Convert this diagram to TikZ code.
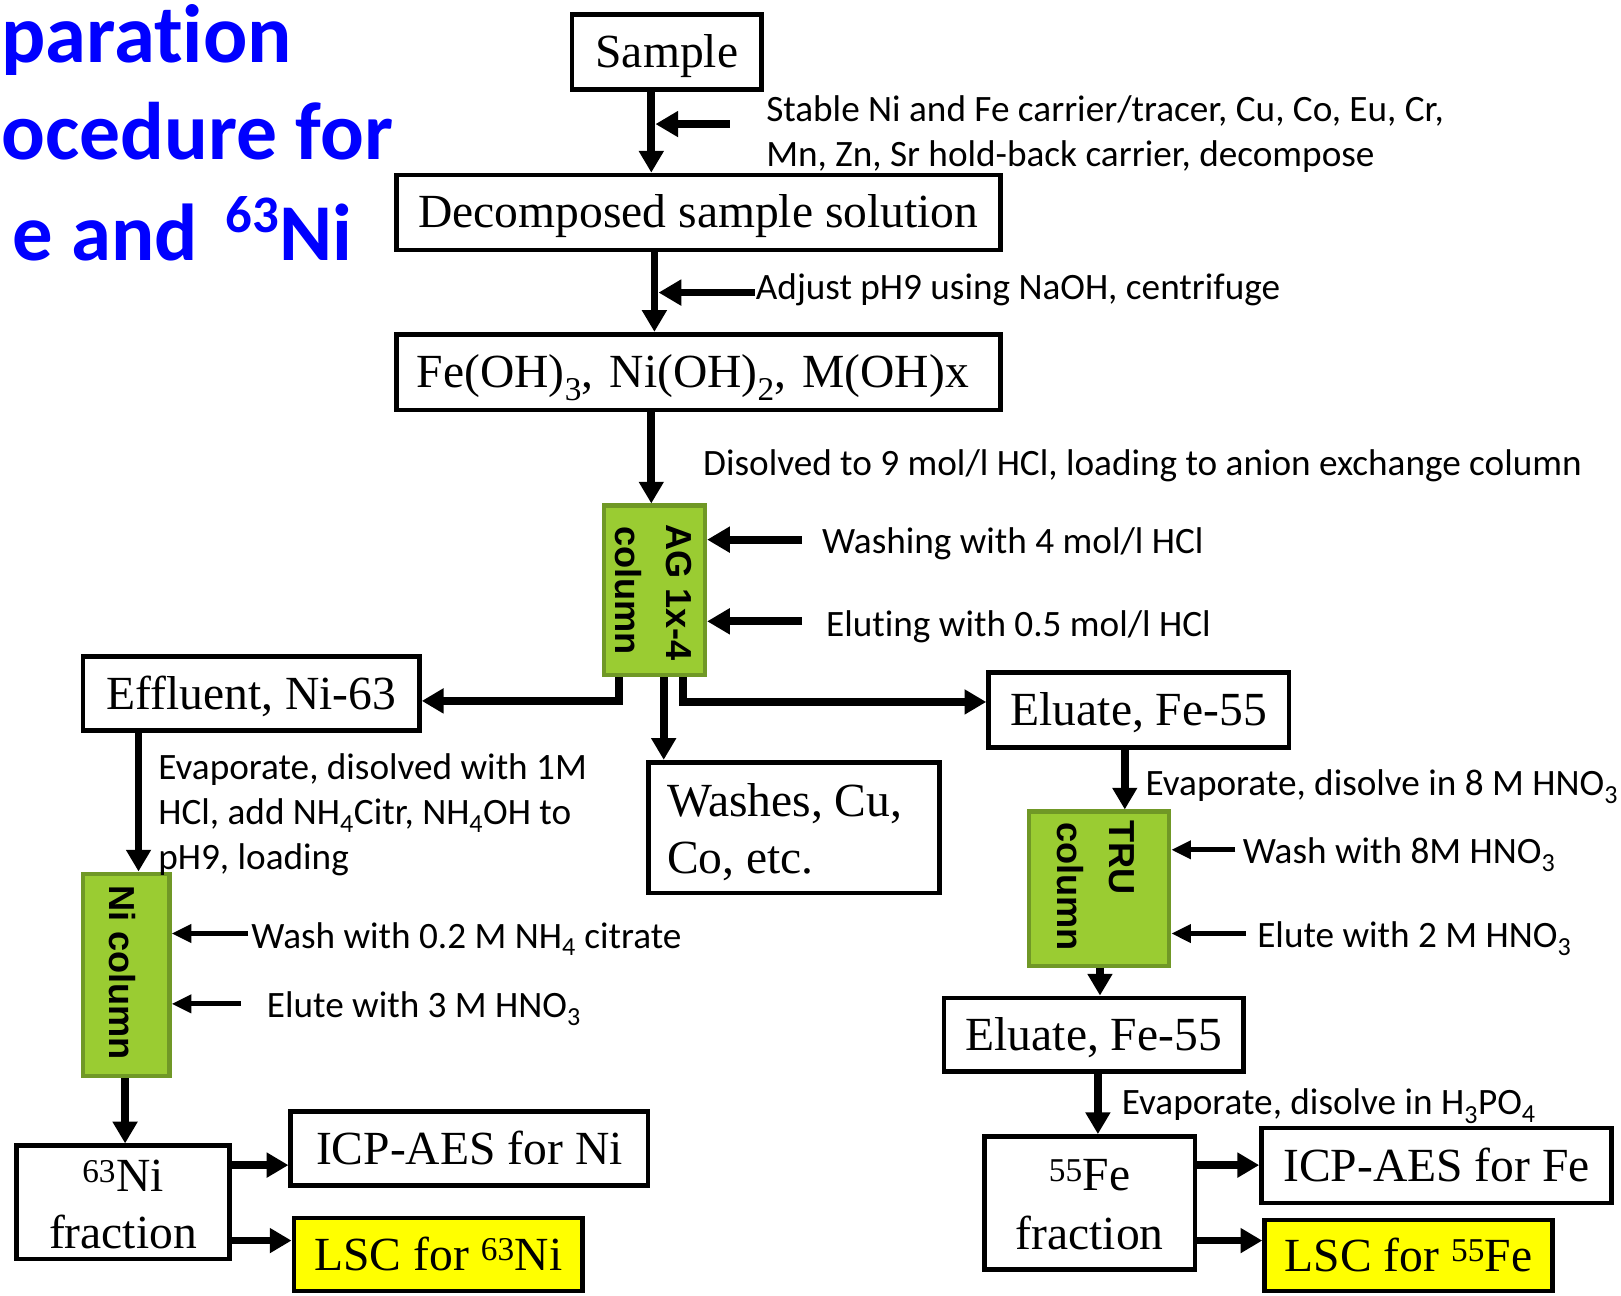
\documentclass[tikz,border=0pt]{standalone}
\usepackage{fontspec}
\setmainfont{Liberation Serif}
\newfontfamily\calfont{Carlito}[Ligatures=NoCommon]
\newfontfamily\colfont{Liberation Sans}
\usetikzlibrary{arrows.meta}
\definecolor{colgreen}{RGB}{154,204,50}
\definecolor{colborder}{RGB}{112,152,38}
\definecolor{titleblue}{RGB}{0,0,255}
\definecolor{lscyellow}{RGB}{255,255,0}
\begin{document}
\begin{tikzpicture}[x=1pt,y=-1pt,
  box/.style={draw=black, line width=4.5pt, fill=white, inner sep=0pt,
    text height=30pt, text depth=0pt, font=\fontsize{46}{52}\selectfont},
  boxtxt/.style={font=\fontsize{46}{52}\selectfont, inner sep=0pt},
  colbox/.style={draw=colborder, line width=4pt, fill=colgreen, inner sep=0pt},
  coltext/.style={font=\colfont\bfseries\fontsize{35}{50}\selectfont, rotate=-90,
    anchor=base west, inner sep=0pt},
  lbl/.style={font=\calfont\fontsize{36}{44}\selectfont, inner sep=0pt, anchor=base west},
  titletxt/.style={font=\calfont\bfseries\fontsize{80}{98}\selectfont, text=titleblue,
    inner sep=0pt},
  flow/.style={line width=7.5pt, -{Triangle[length=21pt,width=23pt]}},
  side/.style={line width=7.5pt, -{Triangle[length=22pt,width=24pt]}},
  thinarrow/.style={line width=5pt, -{Triangle[length=19pt,width=17pt]}}
]
\useasboundingbox (0,0) rectangle (1568,1253);

% title (as far as it is visible)
\node[titletxt, anchor=base west, text height=52pt] (title1) at (1,60) {paration};
\node[titletxt, anchor=base west, font=\calfont\bfseries\fontsize{79}{98}\selectfont] (title2) at (1,154) {ocedure for};
\node[titletxt, anchor=base east, font=\calfont\bfseries\fontsize{78}{98}\selectfont] (title3) at (341,252)
  {e and\hspace{27pt}\raisebox{27pt}{\fontsize{51}{51}\selectfont 63}Ni};

% boxes
\node[box, minimum width=183.5pt, minimum height=72.5pt] (sample) at (645,50.5) {Sample};
\node[box, minimum width=584.5pt, minimum height=72.5pt] (decomp) at (675.5,205.5) {Decomposed sample solution};
\node[box, minimum width=584.5pt, minimum height=73.5pt, text width=544.5pt, align=left, inner xsep=20pt] (feoh) at (675.5,360)
  {Fe(OH)\textsubscript{3}, Ni(OH)\textsubscript{2}, M(OH)x};
\node[colbox, minimum width=98pt, minimum height=164pt] (ag) at (633,571) {};
\node[box, minimum width=325.5pt, minimum height=71.5pt] (eff) at (243,671) {Effluent, Ni-63};
\node[box, minimum width=281.5pt, minimum height=126.5pt] (washes) at (768,800.5) {};
\node[box, minimum width=290.5pt, minimum height=72.5pt] (elu1) at (1101.5,686.5) {Eluate, Fe-55};
\node[colbox, minimum width=136pt, minimum height=149pt] (tru) at (1063,859.5) {};
\node[box, minimum width=289.5pt, minimum height=71.5pt] (elu2) at (1058,1001) {Eluate, Fe-55};
\node[colbox, minimum width=84pt, minimum height=196pt] (nicol) at (122,943) {};
\node[box, minimum width=205.5pt, minimum height=109.5pt] (nifrac) at (119,1163) {};
\node[box, minimum width=345.5pt, minimum height=71.5pt] (icpni) at (454,1111) {ICP-AES for Ni};
\node[box, fill=lscyellow, minimum width=279.5pt, minimum height=70.5pt] (lscni) at (424,1213.5) {LSC for \textsuperscript{63}Ni};
\node[box, minimum width=203.5pt, minimum height=128.5pt] (fefrac) at (1054,1163.5) {};
\node[box, minimum width=338.5pt, minimum height=72.5pt] (icpfe) at (1389.5,1127.5) {ICP-AES for Fe};
\node[box, fill=lscyellow, minimum width=278.5pt, minimum height=68.5pt] (lscfe) at (1362.5,1214.5) {LSC for \textsuperscript{55}Fe};

% texts of the multi-line boxes
\node[boxtxt, anchor=base west] (washes1) at (645,790) {Washes, Cu,};
\node[boxtxt, anchor=base west] (washes2) at (645,845) {Co, etc.};
\node[boxtxt, anchor=base] (nifrac1) at (119,1153) {\textsuperscript{63}Ni};
\node[boxtxt, anchor=base] (nifrac2) at (119,1208) {fraction};
\node[boxtxt, anchor=base] (fefrac1) at (1054,1152) {\textsuperscript{55}Fe};
\node[boxtxt, anchor=base] (fefrac2) at (1054,1209) {fraction};

% column texts
\node[coltext] (agt1) at (645,507) {AG 1x-4};
\node[coltext] (agt2) at (595,509) {column};
\node[coltext] (trut1) at (1073,793) {TRU};
\node[coltext] (trut2) at (1022.5,795) {column};
\node[coltext] (nit) at (105.6,856) {Ni column};

% labels
\node[lbl] (lstab1) at (741,117.5) {Stable Ni and Fe carrier/tracer, Cu, Co, Eu, Cr,};
\node[lbl] (lstab2) at (741,161.5) {Mn, Zn, Sr hold-back carrier, decompose};
\node[lbl] (ladj) at (731,289.5) {Adjust pH9 using NaOH, centrifuge};
\node[lbl] (ldis) at (680,459.5) {Disolved to 9 mol/l HCl, loading to anion exchange column};
\node[lbl] (lwash) at (795,535.5) {Washing with 4 mol/l HCl};
\node[lbl] (lelut) at (799,616) {Eluting with 0.5 mol/l HCl};
\node[lbl] (levap1) at (153,754) {Evaporate, disolved with 1M};
\node[lbl] (levap2) at (153,797.5) {HCl, add NH\textsubscript{4}Citr, NH\textsubscript{4}OH to};
\node[lbl] (levap3) at (153,841) {pH9, loading};
\node[lbl] (lniwash) at (243,917) {Wash with 0.2 M NH\textsubscript{4} citrate};
\node[lbl] (lnielute) at (258,984) {Elute with 3 M HNO\textsubscript{3}};
\node[lbl] (lfe8) at (1108,769) {Evaporate, disolve in 8 M HNO\textsubscript{3}};
\node[lbl] (ltruwash) at (1202,835) {Wash with 8M HNO\textsubscript{3}};
\node[lbl] (ltruelute) at (1216,916.5) {Elute with 2 M HNO\textsubscript{3}};
\node[lbl] (lh3po4) at (1085,1078.5) {Evaporate, disolve in H\textsubscript{3}PO\textsubscript{4}};

% helper coordinates
\coordinate (xA) at (630,0);
\coordinate (xB) at (633,0);
\coordinate (xC) at (630,0);
\coordinate (xE) at (599,0);
\coordinate (yE) at (0,678);
\coordinate (xW) at (642,0);
\coordinate (xF) at (661,0);
\coordinate (yF) at (0,679);
\coordinate (xN) at (134,0);
\coordinate (xN2) at (121,0);
\coordinate (xT) at (1088,0);
\coordinate (xT2) at (1064,0);
\coordinate (xT3) at (1062,0);
\coordinate (yU) at (0,1127);
\coordinate (yL) at (0,1200);
\coordinate (sAtail) at (706,120);
\coordinate (sAtip) at (634,120);
\coordinate (sBtail) at (730,283);
\coordinate (sBtip) at (637,283);
\coordinate (agw1) at (776,522);
\coordinate (agw2) at (776,601);
\coordinate (niw1) at (240,903);
\coordinate (niw2) at (233,971);
\coordinate (truw1) at (1195,822);
\coordinate (truw2) at (1205,903);

% main flow
\draw[flow] (sample.south -| xA) -- (decomp.north -| xA);
\draw[side] (sAtail) -- (sAtip);
\draw[flow] (decomp.south -| xB) -- (feoh.north -| xB);
\draw[side] (sBtail) -- (sBtip);
\draw[flow] (feoh.south -| xC) -- (ag.north -| xC);
\draw[side] (agw1) -- (agw1 -| ag.east);
\draw[side] (agw2) -- (agw2 -| ag.east);

% outputs of the AG column
\draw[flow] (ag.south -| xE) |- (eff.east |- yE);
\draw[flow] (ag.south -| xW) -- (washes.north -| xW);
\draw[flow] (ag.south -| xF) |- (elu1.west |- yF);

% Ni branch
\draw[flow] (eff.south -| xN) -- (nicol.north -| xN);
\draw[thinarrow] (niw1) -- (niw1 -| nicol.east);
\draw[thinarrow] (niw2) -- (niw2 -| nicol.east);
\draw[flow] (nicol.south -| xN2) -- (nifrac.north -| xN2);
\draw[flow] (nifrac.east |- yU) -- (icpni.west |- yU);
\draw[flow] (nifrac.east |- yL) -- (lscni.west |- yL);

% Fe branch
\draw[flow] (elu1.south -| xT) -- (tru.north -| xT);
\draw[thinarrow] (truw1) -- (truw1 -| tru.east);
\draw[thinarrow] (truw2) -- (truw2 -| tru.east);
\draw[flow] (tru.south -| xT2) -- (elu2.north -| xT2);
\draw[flow] (elu2.south -| xT3) -- (fefrac.north -| xT3);
\draw[flow] (fefrac.east |- yU) -- (icpfe.west |- yU);
\draw[flow] (fefrac.east |- yL) -- (lscfe.west |- yL);
\end{tikzpicture}
\end{document}
